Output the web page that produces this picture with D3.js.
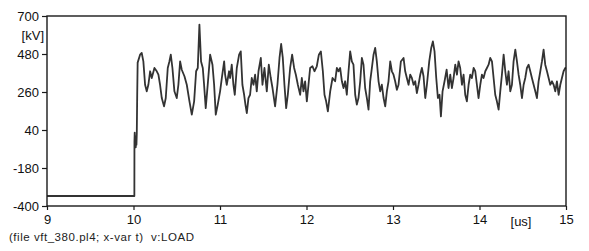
<!DOCTYPE html>
<html>
<head>
<meta charset="utf-8">
<script src="https://cdn.jsdelivr.net/npm/d3@7"></script>
<style>
  body { margin: 0; background: #fff; }
  svg { display: block; font-family: "Liberation Sans", Arial, sans-serif; }
</style>
</head>
<body>
<svg id="chart" width="589" height="251"></svg>
<script>
// ===============================
// Data
// ===============================
const xTicks = [9, 10, 11, 12, 13, 14, 15];
const yTicks = [-400, -180, 40, 260, 480, 700];

// before and during the switching step
const stepTime = [9.0, 10.010, 10.011, 10.014, 10.018, 10.022, 10.026, 10.030, 10.034, 10.038, 10.043, 10.048];
const stepKv = [-342, -342, -30, 25, -55, 5, -60, 0, -45, 20, 250, 430];

// oscillating load voltage after the step
const waveTime = [
  10.076, 10.095, 10.114, 10.134, 10.153, 10.172, 10.192, 10.211, 10.242, 10.269,
  10.288, 10.307, 10.327, 10.353, 10.373, 10.396, 10.415, 10.431, 10.450, 10.473,
  10.500, 10.519, 10.539, 10.558, 10.589, 10.616, 10.647, 10.674, 10.701, 10.724,
  10.743, 10.762, 10.781, 10.801, 10.816, 10.835, 10.858, 10.886, 10.913, 10.932,
  10.951, 10.974, 11.001, 11.021, 11.048, 11.059, 11.078, 11.105, 11.117, 11.136,
  11.155, 11.171, 11.194, 11.221, 11.240, 11.259, 11.279, 11.294, 11.310, 11.329,
  11.348, 11.367, 11.387, 11.406, 11.425, 11.445, 11.472, 11.491, 11.514, 11.541,
  11.564, 11.587, 11.607, 11.637, 11.664, 11.688, 11.707, 11.726, 11.745, 11.765,
  11.784, 11.811, 11.834, 11.857, 11.877, 11.900, 11.927, 11.946, 11.965, 11.984,
  12.004, 12.023, 12.042, 12.069, 12.092, 12.119, 12.143, 12.166, 12.189, 12.208,
  12.227, 12.247, 12.274, 12.301, 12.331, 12.351, 12.370, 12.389, 12.409, 12.428,
  12.447, 12.466, 12.486, 12.505, 12.524, 12.543, 12.563, 12.582, 12.601, 12.621,
  12.640, 12.659, 12.678, 12.698, 12.717, 12.736, 12.756, 12.775, 12.794, 12.813,
  12.833, 12.852, 12.871, 12.891, 12.910, 12.929, 12.948, 12.968, 12.987, 13.006,
  13.025, 13.045, 13.064, 13.091, 13.122, 13.141, 13.160, 13.180, 13.199, 13.218,
  13.238, 13.257, 13.276, 13.295, 13.315, 13.334, 13.353, 13.373, 13.392, 13.419,
  13.442, 13.461, 13.480, 13.500, 13.519, 13.538, 13.554, 13.573, 13.596, 13.620,
  13.642, 13.662, 13.681, 13.700, 13.720, 13.739, 13.758, 13.777, 13.797, 13.816,
  13.835, 13.854, 13.874, 13.893, 13.912, 13.932, 13.951, 13.970, 13.989, 14.009,
  14.028, 14.047, 14.067, 14.086, 14.105, 14.124, 14.144, 14.163, 14.182, 14.201,
  14.221, 14.240, 14.259, 14.279, 14.298, 14.317, 14.336, 14.356, 14.375, 14.394,
  14.414, 14.433, 14.452, 14.471, 14.491, 14.510, 14.529, 14.548, 14.568, 14.587,
  14.606, 14.626, 14.645, 14.664, 14.683, 14.703, 14.722, 14.741, 14.760, 14.780,
  14.799, 14.818, 14.838, 14.857, 14.876, 14.895, 14.915, 14.934, 14.953, 14.972,
  14.992, 15.000
];
const waveKv = [
  476, 486, 437, 302, 264, 302, 380, 341, 399, 380,
  360, 302, 225, 177, 225, 399, 437, 476, 399, 264,
  225, 302, 437, 389, 351, 302, 206, 129, 206, 380,
  399, 650, 437, 399, 302, 167, 302, 476, 418, 302,
  129, 187, 264, 341, 437, 360, 302, 380, 341, 418,
  302, 244, 399, 476, 495, 302, 244, 187, 138, 225,
  244, 341, 302, 360, 264, 380, 457, 302, 399, 264,
  418, 341, 283, 177, 302, 457, 538, 457, 302, 167,
  244, 399, 476, 399, 360, 302, 244, 341, 264, 322,
  206, 302, 399, 409, 380, 409, 476, 495, 380, 244,
  206, 148, 264, 341, 322, 399, 380, 399, 322, 283,
  322, 244, 380, 495, 437, 418, 244, 187, 225, 322,
  457, 418, 283, 225, 158, 322, 399, 476, 515, 437,
  322, 264, 302, 225, 177, 264, 322, 437, 380, 360,
  322, 273, 302, 437, 457, 380, 341, 302, 360, 341,
  302, 322, 254, 302, 360, 399, 351, 225, 302, 437,
  515, 553, 495, 341, 225, 244, 119, 264, 322, 390,
  283, 360, 283, 341, 418, 360, 437, 399, 302, 360,
  244, 206, 302, 360, 341, 399, 380, 302, 225, 302,
  360, 341, 380, 399, 418, 457, 437, 341, 244, 206,
  158, 264, 360, 476, 380, 302, 380, 264, 302, 437,
  505, 437, 360, 302, 225, 302, 341, 399, 418, 380,
  341, 302, 264, 225, 322, 380, 437, 505, 418, 380,
  341, 302, 322, 302, 264, 322, 244, 302, 341, 380,
  399, 400
];

// ===============================
// Layout
// ===============================
const plotLeft = 47, plotRight = 566, plotTop = 16, plotBottom = 206;
const axisColor = "#1a1a1a";
const lineColor = "#333";

const svg = d3.select("#chart");

const x = d3.scaleLinear().domain([9, 15]).range([plotLeft, plotRight]);
const y = d3.scaleLinear().domain([-400, 700]).range([plotBottom, plotTop]);

const points = stepTime.map((t, i) => [t, stepKv[i]])
  .concat(waveTime.map((t, i) => [t, waveKv[i]]));

// curve
svg.append("path")
  .datum(points)
  .attr("fill", "none")
  .attr("stroke", lineColor)
  .attr("stroke-width", 1.8)
  .attr("stroke-linejoin", "round")
  .attr("d", d3.line().x(d => x(d[0])).y(d => y(d[1])));

// frame
svg.append("rect")
  .attr("x", plotLeft).attr("y", plotTop)
  .attr("width", plotRight - plotLeft).attr("height", plotBottom - plotTop)
  .attr("fill", "none")
  .attr("stroke", axisColor)
  .attr("stroke-width", 1.4);

// plain hyphen for negatives, like the original plot
const plain = d => String(d);

// y axis
const yAxis = svg.append("g")
  .attr("transform", `translate(${plotLeft},0)`)
  .call(d3.axisLeft(y).tickValues(yTicks).tickSize(5).tickPadding(3).tickFormat(plain));

// x axis
const xAxis = svg.append("g")
  .attr("transform", `translate(0,${plotBottom})`)
  .call(d3.axisBottom(x).tickValues(xTicks).tickSize(4).tickPadding(5).tickFormat(plain));

[yAxis, xAxis].forEach(g => {
  g.select(".domain").remove();
  g.selectAll(".tick line").attr("stroke", axisColor).attr("stroke-width", 1.2);
  g.selectAll(".tick text")
    .attr("fill", "#111")
    .style("font-family", "'Liberation Sans', Arial, sans-serif")
    .style("font-size", "13px");
});
yAxis.selectAll(".tick text").attr("dy", "0.36em");

// unit labels
svg.append("text")
  .attr("x", 44).attr("y", 40)
  .attr("text-anchor", "end")
  .attr("font-size", "13px")
  .attr("fill", "#111")
  .text("[kV]");

svg.append("text")
  .attr("x", 521).attr("y", 226)
  .attr("text-anchor", "middle")
  .attr("font-size", "13px")
  .attr("fill", "#111")
  .text("[us]");

// footer
svg.append("text")
  .attr("x", 9).attr("y", 241)
  .attr("font-size", "11.5px")
  .attr("fill", "#222")
  .attr("textLength", 185)
  .attr("lengthAdjust", "spacing")
  .attr("xml:space", "preserve")
  .text("(file vft_380.pl4; x-var t)  v:LOAD");
</script>
</body>
</html>
